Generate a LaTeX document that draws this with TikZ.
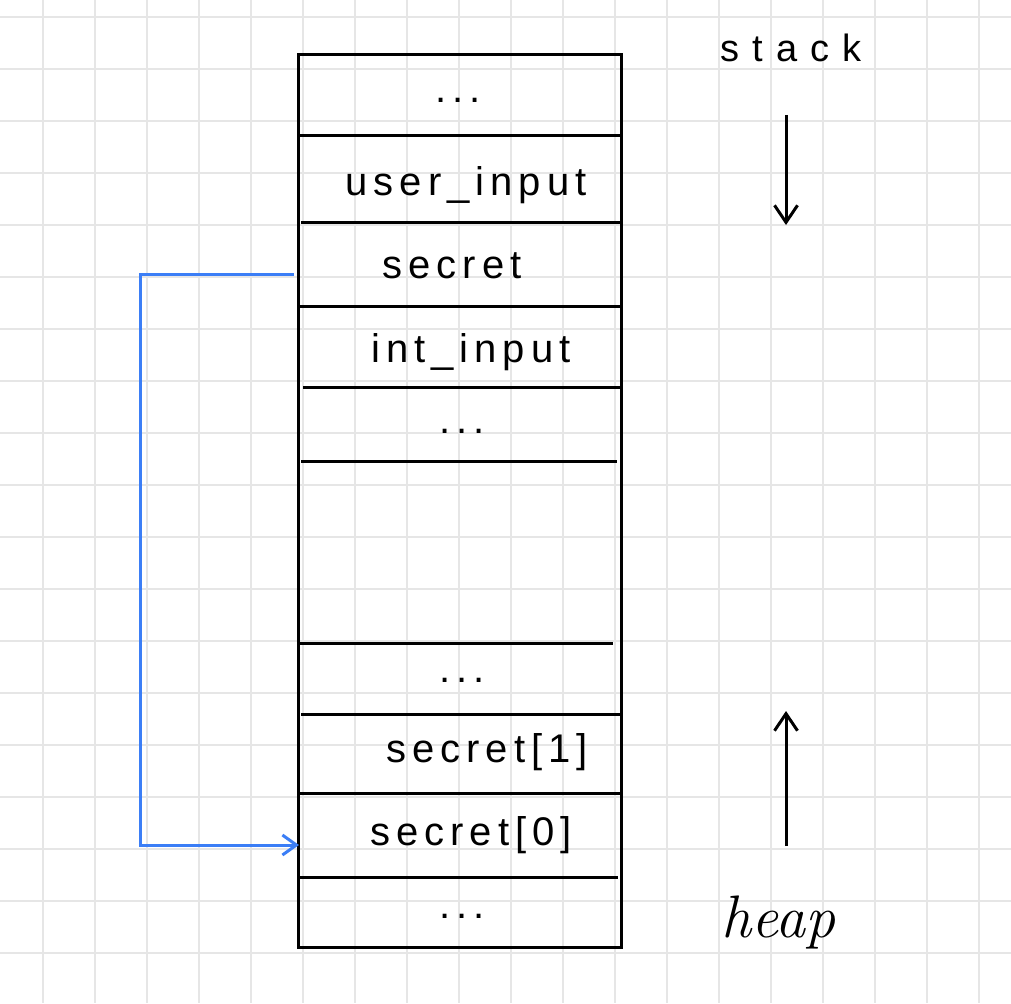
\documentclass[tikz,border=0pt]{standalone}
\usepackage{fontspec}
\newfontfamily\handfont[LetterSpace=15]{Liberation Sans}
\usetikzlibrary{arrows.meta}
\definecolor{gridgray}{RGB}{230,230,230}
\definecolor{ptrblue}{RGB}{59,126,246}

\begin{document}
\begin{tikzpicture}[x=1pt,y=-1pt]

    \tikzset{
      gridline/.style={color=gridgray, line width=1.8pt},
      cellline/.style={color=black, line width=3pt},
      celltext/.style={
        anchor=base,
        inner sep=0pt,
        font=\handfont\fontsize{40}{44}\selectfont,
      },
      pointer/.style={color=ptrblue, line width=3pt, -{Straight Barb[length=14pt,width=20pt]}},
      growth/.style={color=black, line width=3pt, -{Straight Barb[length=17pt,width=23pt]}},
    }
    \useasboundingbox (0,0) rectangle (1011,1003);
    \fill[white] (0,0) rectangle (1011,1003);
    \foreach \gx in {43,95,...,979} \draw[gridline] (\gx,0)--(\gx,1003);
    \foreach \gy in {17,69,...,953} \draw[gridline] (0,\gy)--(1011,\gy);

	\draw[cellline] (298,55) rectangle (621,947);
	\draw[cellline] (298,136)--(621,136);
	\draw[cellline] (301,222)--(621,222);
	\draw[cellline] (298,306)--(621,306);
	\draw[cellline] (303,387)--(620,387);
	\draw[cellline] (301,461)--(617,461);
	\draw[cellline] (299,643)--(613,643);
	\draw[cellline] (301,714)--(621,714);
	\draw[cellline] (298,793)--(621,793);
	\draw[cellline] (298,877)--(618,877);

	\node[celltext] (dotstop) at (458,103) {...};
	\node[celltext] (userin) at (466,195) {user\_input};
	\node[celltext] (secretvar) at (452,278) {secret};
	\node[celltext] (intin) at (471,362) {int\_input};
	\node[celltext] (dotsmid) at (462,433) {...};
	\node[celltext] (dotsheap) at (462,682) {...};
	\node[celltext] (secretone) at (487,762) {secret[1]};
	\node[celltext] (secretzero) at (471,845) {secret[0]};
	\node[celltext] (dotsbottom) at (462,918) {...};

	\node[celltext, font=\handfont\fontsize{38}{42}\selectfont\addfontfeature{LetterSpace=35}] (stacklbl) at (791,62) {stack};
	\node[anchor=base, inner sep=0pt, font=\itshape\fontsize{60}{62}\selectfont] (heaplbl) at (778,937) {heap};

	\coordinate (ptrfrom) at (294,274);
	\coordinate (ptrto) at (299,845);
	\draw[pointer] (ptrfrom) -- ++(-154,0) |- (ptrto);

	\coordinate (stackfrom) at (786,115);
	\coordinate (stackto) at (786,225);
	\draw[growth] (stackfrom) -- (stackto);
	\coordinate (heapfrom) at (786,846);
	\coordinate (heapto) at (786,711);
	\draw[growth] (heapfrom) -- (heapto);

\end{tikzpicture}
\end{document}
